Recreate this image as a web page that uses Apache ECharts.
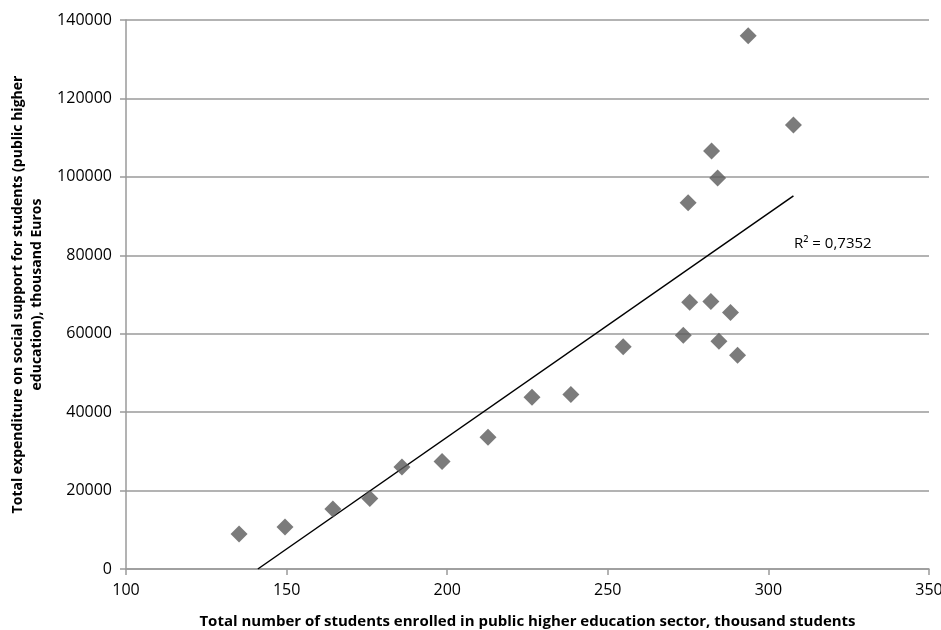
<!DOCTYPE html>
<html>
<head>
<meta charset="utf-8">
<script src="https://cdn.jsdelivr.net/npm/echarts@6/dist/echarts.min.js"></script>
<style>html,body{margin:0;padding:0;background:#fff}#c{width:941px;height:630px}</style>
</head>
<body>
<div id="c"></div>
<script>
// Students enrolled (thousand) and expenditure (thousand Euros)
var students = [135.2, 149.5, 164.4, 175.9, 185.9, 198.4, 212.7, 226.4, 238.5, 254.8, 273.5, 275.5, 275.0, 282.1, 282.3, 284.2, 284.6, 288.2, 290.4, 293.7, 307.8];
var expenditure = [8900, 10700, 15300, 18000, 26000, 27400, 33600, 43800, 44500, 56700, 59600, 68000, 93400, 68200, 106600, 99700, 58100, 65400, 54500, 136000, 113200];
var xTicks = [100, 150, 200, 250, 300, 350];
var yTicks = [0, 20000, 40000, 60000, 80000, 100000, 120000, 140000];
var r2Label = 'R\u00B2 = 0,7352';
var xTitle = 'Total number of students enrolled in public higher education sector, thousand students';
var yTitle = 'Total expenditure on social support for students (public higher\neducation), thousand Euros';

// linear least-squares trendline from the data
var n = students.length, sx = 0, sy = 0, sxx = 0, sxy = 0;
for (var i = 0; i < n; i++) { sx += students[i]; sy += expenditure[i]; sxx += students[i]*students[i]; sxy += students[i]*expenditure[i]; }
var slope = (n*sxy - sx*sy) / (n*sxx - sx*sx);
var icpt = (sy - slope*sx) / n;
var xmin = Math.min.apply(null, students), xmax = Math.max.apply(null, students);
var x0 = Math.max(xmin, -icpt/slope);
var trend = [[x0, slope*x0 + icpt], [xmax, slope*xmax + icpt]];

var pts = students.map(function (x, i) { return [x, expenditure[i]]; });
var font = '"Open Sans", "Liberation Sans", sans-serif';

var chart = echarts.init(document.getElementById('c'), null, {renderer: 'canvas'});
chart.setOption({
  animation: false,
  backgroundColor: '#fff',
  grid: {left: 126, right: 12, top: 20, bottom: 61, containLabel: false, outerBoundsMode: 'none'},
  xAxis: {
    type: 'value', min: xTicks[0], max: xTicks[xTicks.length-1], interval: 50,
    name: xTitle, nameLocation: 'middle', nameGap: 45,
    nameTextStyle: {fontFamily: font, fontWeight: 'bold', fontSize: 15, color: '#000'},
    axisLine: {show: true, lineStyle: {color: '#9a9a9a', width: 1.5}},
    axisTick: {show: true, length: 6, lineStyle: {color: '#9a9a9a', width: 1.5}},
    axisLabel: {fontFamily: font, fontSize: 16, color: '#000', margin: 13, formatter: function (v) { return String(v); }},
    splitLine: {show: false}
  },
  yAxis: {
    type: 'value', min: yTicks[0], max: yTicks[yTicks.length-1], interval: 20000,
    name: yTitle, nameLocation: 'middle', nameGap: 76, nameRotate: 90,
    nameTextStyle: {fontFamily: font, fontWeight: 'bold', fontSize: 14, color: '#000', lineHeight: 19, align: 'center'},
    axisLine: {show: true, lineStyle: {color: '#9a9a9a', width: 1.5}},
    axisTick: {show: true, length: 6, lineStyle: {color: '#9a9a9a', width: 1.5}},
    axisLabel: {fontFamily: font, fontSize: 16, color: '#000', margin: 14, formatter: function (v) { return String(v); }},
    splitLine: {show: true, lineStyle: {color: '#9a9a9a', width: 1.5}}
  },
  series: [
    {
      type: 'line', data: trend, showSymbol: false, symbol: 'none', clip: true,
      lineStyle: {color: '#000', width: 1.5}, z: 3
    },
    {
      type: 'scatter', data: pts, symbol: 'diamond', symbolSize: 17,
      itemStyle: {color: '#5a5a5a'}, z: 4
    }
  ],
  graphic: [{
    type: 'text', left: 794, top: 236,
    style: {text: r2Label, fontFamily: font, fontSize: 15, fill: '#000'}
  }]
});
</script>
</body>
</html>
